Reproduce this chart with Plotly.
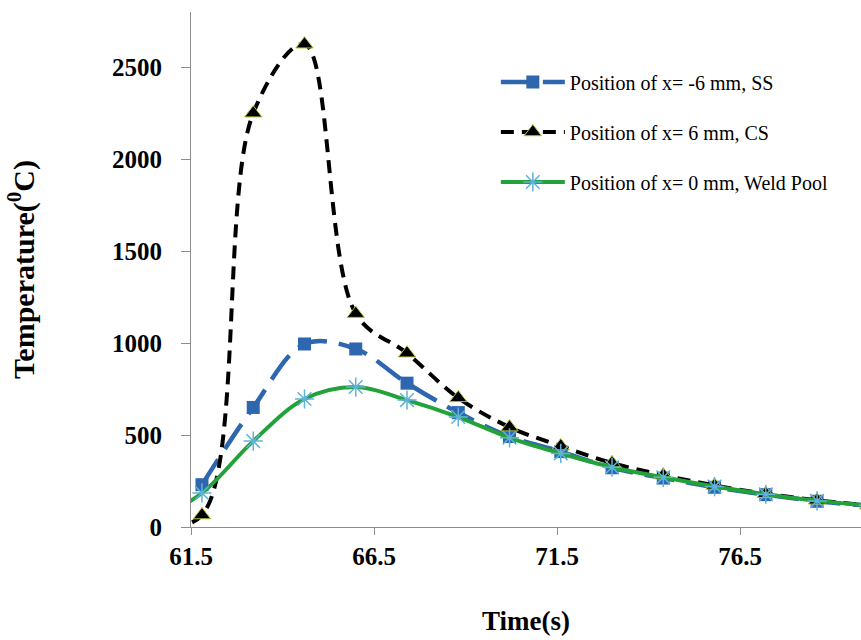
import plotly.graph_objects as go

# Data
time_ss = [61.8, 63.2, 64.6, 66.0, 67.4, 68.8, 70.2, 71.6, 73.0, 74.4, 75.8, 77.2, 78.6, 80.0]
temp_ss = [230, 650, 995, 968, 782, 622, 492, 410, 322, 266, 216, 176, 140, 116]

time_cs = [60.4, 61.8, 63.2, 64.6, 66.0, 67.4, 68.8, 70.2, 71.6, 73.0, 74.4, 75.8, 77.2, 78.6, 80.0]
temp_cs = [0, 65, 2250, 2625, 1160, 945, 702, 543, 440, 348, 282, 226, 181, 145, 118]

time_wp = [60.4, 61.8, 63.2, 64.6, 66.0, 67.4, 68.8, 70.2, 71.6, 73.0, 74.4, 75.8, 77.2, 78.6, 80.0]
temp_wp = [20, 185, 467, 696, 761, 690, 598, 485, 400, 325, 270, 220, 178, 142, 118]

x_ticks = [61.5, 66.5, 71.5, 76.5]
y_ticks = [0, 500, 1000, 1500, 2000, 2500]

names = ["Position of x= -6 mm, SS", "Position of x= 6 mm, CS", "Position of x= 0 mm, Weld Pool"]

SERIF = "Liberation Serif"

fig = go.Figure()
fig.add_trace(go.Scatter(
    x=time_ss, y=temp_ss, name=names[0], mode="lines+markers", legendgroup="a",
    line=dict(color="#2E66B0", width=4.5, dash="30px,12px", shape="spline"),
    marker=dict(symbol="square", size=13, color="#2E66B0"),
))
fig.add_trace(go.Scatter(
    x=time_cs, y=temp_cs, name=names[1], mode="lines+markers", legendgroup="b",
    line=dict(color="black", width=4, dash="13px,8px", shape="spline"),
    marker=dict(symbol="triangle-up", size=15, color="black",
                line=dict(color="#B7C23A", width=1)),
))
fig.add_trace(go.Scatter(
    x=time_wp, y=temp_wp, name=names[2], mode="lines+markers", legendgroup="c",
    line=dict(color="#23A23A", width=4, shape="spline"),
    marker=dict(symbol="asterisk-open", size=16, color="#5FB2DA",
                line=dict(color="#5FB2DA", width=1.5)),
))

fig.update_layout(
    width=861, height=640,
    margin=dict(l=191, r=0, t=12, b=113),
    paper_bgcolor="white", plot_bgcolor="white",
    font=dict(family=SERIF, color="black"),
    legend=dict(
        x=0.455, y=0.902, xanchor="left", yanchor="top",
        font=dict(family=SERIF, size=20, color="black"),
        itemwidth=64, tracegroupgap=21, bgcolor="rgba(0,0,0,0)",
    ),
    xaxis=dict(
        range=[61.5, 79.8], tickvals=x_ticks, ticktext=[str(v) for v in x_ticks],
        showgrid=False, zeroline=False,
        showline=True, linecolor="#8C8C8C", linewidth=1.2,
        ticks="outside", ticklen=7, tickcolor="#8C8C8C", tickwidth=1.2,
        tickfont=dict(family=SERIF, size=25, color="black", weight="bold"),
        title=dict(text="<b>Time(s)</b>", font=dict(family=SERIF, size=27, color="black"),
                   standoff=42),
        automargin=False,
    ),
    yaxis=dict(
        range=[0, 2800], tickvals=y_ticks,
        showgrid=False, zeroline=False,
        showline=True, linecolor="#8C8C8C", linewidth=1.2,
        ticks="outside", ticklen=9, tickcolor="#8C8C8C", tickwidth=1.2,
        ticklabelstandoff=14,
        tickfont=dict(family=SERIF, size=25, color="black", weight="bold"),
        title=dict(text="<b>Temperature(<sup>0</sup>C)</b>",
                   font=dict(family=SERIF, size=30, color="black"), standoff=68),
        automargin=False,
    ),
)

fig.write_html("out.html")
